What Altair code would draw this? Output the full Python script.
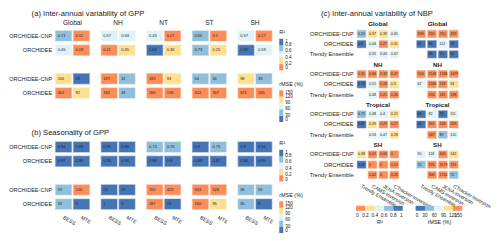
import altair as alt
import pandas as pd

FONT = "Liberation Sans"
TXT = "#222222"

# ---------------- (a) / (b) GPP data ----------------
regions = ["Global", "NH", "NT", "ST", "SH"]
datasets = ["BESS", "MTE"]
models = ["ORCHIDEE-CNP", "ORCHIDEE"]

# [model][region] -> [BESS, MTE]
iav_r2 = [
    [[0.71, 0.11], [0.57, 0.59], [0.43, 0.07], [0.66, 0.1], [0.57, 0.17]],
    [[0.46, 0.09], [0.11, 0.35], [0.84, 0.36], [0.73, 0.25], [0.82, 0.59]],
]
iav_rmse = [
    [[105, 29], [187, 31], [183, 93], [54, 46], [98, 39]],
    [[402, 92], [182, 34], [266, 136], [412, 357], [671, 265]],
]
seas_r2 = [
    [[0.94, 0.89], [0.95, 0.88], [0.73, 0.76], [0.8, 0.75], [0.9, 0.94]],
    [[0.97, 0.96], [0.95, 0.99], [0.88, 0.9], [0.89, 0.82], [0.96, 0.95]],
]
seas_rmse = [
    [[53, 126], [23, 25], [152, 420], [633, 529], [36, 55]],
    [[53, 5], [1, 3], [187, 19], [160, 95], [35, 8]],
]

# ---------------- (c) NBP data ----------------
sections = ["Global", "NH", "Tropical", "SH"]
references = ["Trendy Ensemble", "CAMS-inversion", "JENA-inversion", "CTracker-inversion"]
nbp_models = ["ORCHIDEE-CNP", "ORCHIDEE", "Trendy Ensemble"]

# [section][model][reference]
nbp_r2 = [
    [[0.59, 0.37, 0.39, 0.45], [0.80, 0.44, 0.27, 0.31], [None, 0.55, 0.44, 0.47]],
    [[0.35, 0.36, 0.32, 0.27], [0.76, 0.55, 0.28, 0.3], [None, 0.48, 0.21, 0.26]],
    [[0.75, 0.48, 0.4, 0.21], [0.87, 0.39, 0.29, 0.17], [None, 0.53, 0.47, 0.28]],
    [[0.38, 0.01, 0.03, 0], [0.89, 0, 0, 0.19], [None, 0.02, 0, 0.26]],
]
# colour class (0 = lowest legend bin ... 4 = highest)
nbp_r2_class = [
    [[3, 1, 1, 2], [4, 2, 0, 1], [None, 2, 2, 2]],
    [[0, 0, 0, 0], [4, 2, 0, 1], [None, 2, 0, 0]],
    [[3, 2, 2, 1], [4, 1, 0, 0], [None, 2, 2, 1]],
    [[1, 0, 0, 0], [4, 0, 0, 0], [None, 0, 0, 0]],
]
nbp_rmse = [
    [[203, 255, 210, 329], [51, 66, 112, 78], [None, 48, 70, 55]],
    [[524, 2146, 1336, 1479], [67, 1580, 218, 94], [None, 556, 181, 198]],
    [[66, 82, 78, 111], [56, 331, 243, 209], [None, 187, 89, 120]],
    [[90, 118, 603, 142], [70, 376, 3179, 191], [None, 306, 1741, 75]],
]
nbp_rmse_class = [
    [[4, 4, 4, 4], [0, 0, 2, 0], [None, 0, 0, 0]],
    [[4, 4, 4, 4], [2, 4, 4, 3], [None, 4, 4, 4]],
    [[0, 2, 0, 2], [0, 4, 4, 4], [None, 4, 1, 2]],
    [[2, 2, 4, 3], [1, 4, 4, 4], [None, 4, 4, 1]],
]

R2_TICKS = [0, 0.2, 0.4, 0.6, 0.8, 1]
RMSE_TICKS = [0, 30, 60, 90, 120, 150]
R2_RANGE = ["#fc8d59", "#fee090", "#e0f3f8", "#91bfdb", "#4575b4"]
RMSE_RANGE = R2_RANGE[::-1]


def fmt(v):
    return f"{v:g}"


def r2_scale():
    return alt.Scale(type="quantize", domain=[R2_TICKS[0], R2_TICKS[-1]], range=R2_RANGE, nice=False, zero=False)


def rmse_scale():
    return alt.Scale(type="quantize", domain=[RMSE_TICKS[0], RMSE_TICKS[-1]], range=RMSE_RANGE, nice=False, zero=False)


def legend_values(ticks):
    # the lowest label is nudged just inside the domain so that it is drawn
    return [ticks[0] + (ticks[1] - ticks[0]) * 1e-4] + ticks[1:]


LABEL_EXPR = "datum.index == 0 ? '0' : datum.label"


def vlegend(title, ticks):
    return alt.Legend(
        title=title, type="gradient", direction="vertical", orient="right",
        values=legend_values(ticks), format="~g", labelExpr=LABEL_EXPR,
        gradientLength=32, gradientThickness=4, labelFontSize=4.6, titleFontSize=5.5,
        labelBaseline="middle", labelAlign="left",
        labelOverlap=False, titlePadding=3, labelOffset=2, padding=1.5, offset=5,
        gradientStrokeWidth=0,
    )


def hlegend(title, ticks):
    return alt.Legend(
        title=title, type="gradient", direction="horizontal", orient="none",
        legendX=0, legendY=57, values=legend_values(ticks), format="~g", labelExpr=LABEL_EXPR,
        gradientLength=47, gradientThickness=5, labelFontSize=4.8, titleFontSize=5.5,
        labelAlign="center", labelBaseline="top",
        labelOverlap=False, titleOrient="bottom", titleAnchor="middle", titlePadding=2,
        labelOffset=2, padding=0, gradientStrokeWidth=0,
    )


def gpp_region(r2, rmse, ri, show_header, show_x):
    reg = regions[ri]
    recs = []
    for mi in range(len(models)):
        for di, ds in enumerate(datasets):
            v = r2[mi][ri][di]
            w = rmse[mi][ri][di]
            recs.append({"dataset": ds, "row": f"R{mi}", "r2": v, "rmse": None, "label": fmt(v)})
            recs.append({"dataset": ds, "row": f"E{mi}", "r2": None, "rmse": w, "label": fmt(w)})
    df = pd.DataFrame(recs)

    first = ri == 0
    last = ri == len(regions) - 1
    ydom = ["R0", "R1", "gap", "E0", "E1"]
    yaxis = alt.Axis(
        title=None, ticks=False, domain=False, labelFontSize=5.6, labelPadding=3,
        labelExpr="(datum.value == 'R0' || datum.value == 'E0') ? 'ORCHIDEE-CNP' : (datum.value == 'gap' ? '' : 'ORCHIDEE')",
    ) if first else None
    xaxis = alt.Axis(title=None, labelAngle=30, labelAlign="left", labelBaseline="middle",
                     labelFontSize=5.2, labelPadding=5, ticks=False, domain=False) if show_x else None
    xs = alt.Scale(domain=datasets, paddingInner=0.12, paddingOuter=0.06)
    ys = alt.Scale(domain=ydom, paddingInner=0.3, paddingOuter=0.15)
    x = alt.X("dataset:N", scale=xs, axis=xaxis)
    y = alt.Y("row:N", scale=ys, axis=yaxis)

    r2_rect = alt.Chart().transform_filter("isValid(datum.r2)").mark_rect(
        strokeWidth=1.4, strokeOpacity=0.45).encode(
        x=x, y=y,
        fill=alt.Fill("r2:Q", scale=r2_scale(), legend=vlegend("R²", R2_TICKS) if last else None),
        stroke=alt.Stroke("r2:Q", scale=r2_scale(), legend=None),
    )
    rmse_rect = alt.Chart().transform_filter("isValid(datum.rmse)").mark_rect(
        strokeWidth=1.4, strokeOpacity=0.45).encode(
        x=x, y=y,
        fill=alt.Fill("rmse:Q", scale=rmse_scale(), legend=vlegend("rMSE (%)", RMSE_TICKS) if last else None),
        stroke=alt.Stroke("rmse:Q", scale=rmse_scale(), legend=None),
    )
    txt = alt.Chart().mark_text(align="left", baseline="middle", fontSize=4, dx=2, color=TXT).encode(
        x=alt.X("dataset:N", scale=xs, axis=xaxis, bandPosition=0),
        y=y,
        text="label:N",
    )
    props = dict(width=36, height=72)
    if show_header:
        props["title"] = alt.Title(reg, fontSize=6.6, fontWeight="normal", anchor="middle", offset=2, color=TXT)
    return alt.layer(r2_rect, rmse_rect, txt, data=df).resolve_scale(
        fill="independent", stroke="independent").properties(**props)


def gpp_panel(title, r2, rmse, show_header, show_x):
    charts = [gpp_region(r2, rmse, ri, show_header, show_x) for ri in range(len(regions))]
    return alt.hconcat(*charts, spacing=10, bounds="flush").resolve_scale(
        fill="independent", stroke="independent").properties(
        title=alt.Title(title, fontSize=7.7, fontWeight="normal", anchor="start", offset=3, dx=23, color=TXT)
    )


def nbp_grid(si, metric, show_y, show_x):
    is_r2 = metric == "r2"
    vals = (nbp_r2 if is_r2 else nbp_rmse)[si]
    cls = (nbp_r2_class if is_r2 else nbp_rmse_class)[si]
    ticks = R2_TICKS if is_r2 else RMSE_TICKS
    recs = []
    for mi, m in enumerate(nbp_models):
        for ci, ref in enumerate(references):
            v = vals[mi][ci]
            if v is None:
                continue
            k = cls[mi][ci]
            recs.append({"model": m, "ref": ref, "cval": (ticks[k] + ticks[k + 1]) / 2, "label": fmt(v)})
    df = pd.DataFrame(recs)
    xs = alt.Scale(domain=references, paddingInner=0.22, paddingOuter=0.11)
    ys = alt.Scale(domain=nbp_models, paddingInner=0.32, paddingOuter=0.16)
    xaxis = alt.Axis(title=None, labelAngle=30, labelAlign="left", labelBaseline="middle",
                     labelFontSize=5.1, labelPadding=5, ticks=False, domain=False) if show_x else None
    yaxis = alt.Axis(title=None, ticks=False, domain=False, labelFontSize=5.7, labelPadding=3) if show_y else None
    leg = hlegend("R²" if is_r2 else "rMSE (%)", ticks) if show_x else None
    rect = alt.Chart().mark_rect(strokeWidth=1.2, strokeOpacity=0.45).encode(
        x=alt.X("ref:N", scale=xs, axis=xaxis),
        y=alt.Y("model:N", scale=ys, axis=yaxis),
        fill=alt.Fill("cval:Q", scale=r2_scale() if is_r2 else rmse_scale(), legend=leg),
        stroke=alt.Stroke("cval:Q", scale=r2_scale() if is_r2 else rmse_scale(), legend=None),
    )
    txt = alt.Chart().mark_text(align="left", baseline="middle", fontSize=3.6, dx=0.8, color=TXT).encode(
        x=alt.X("ref:N", scale=xs, axis=xaxis, bandPosition=0),
        y=alt.Y("model:N", scale=ys, axis=yaxis),
        text="label:N",
    )
    return alt.layer(rect, txt, data=df).properties(
        width=44, height=31,
        title=alt.Title(sections[si], fontSize=6.3, fontWeight="bold", anchor="middle", offset=1, color=TXT),
    )


panel_a = gpp_panel("(a) Inter-annual variability of GPP", iav_r2, iav_rmse, True, False)
panel_b = gpp_panel("(b) Seasonality of GPP", seas_r2, seas_rmse, False, True)

left = alt.vconcat(panel_a, panel_b, spacing=5).resolve_scale(fill="independent", stroke="independent")

rows_c = []
for si in range(len(sections)):
    last = si == len(sections) - 1
    rows_c.append(
        alt.hconcat(nbp_grid(si, "r2", True, last), nbp_grid(si, "rmse", False, last),
                    spacing=16, bounds="flush").resolve_scale(fill="independent", stroke="independent")
    )
panel_c = alt.vconcat(*rows_c, spacing=1.5).resolve_scale(
    fill="independent", stroke="independent").properties(
    title=alt.Title("(c) Inter-annual variability of NBP", fontSize=7.7, fontWeight="normal",
                    anchor="start", offset=4, dx=12, color=TXT)
)

chart = alt.hconcat(left, panel_c, spacing=4).resolve_scale(
    fill="independent", stroke="independent").properties(padding=0).configure(
    font=FONT
).configure_view(stroke=None).configure_axis(
    labelFont=FONT, labelColor=TXT, grid=False
).configure_legend(
    labelFont=FONT, titleFont=FONT, labelColor=TXT, titleColor=TXT, titleFontWeight="normal"
)

chart.save("out.html", embed_options={"renderer": "svg", "actions": False})
